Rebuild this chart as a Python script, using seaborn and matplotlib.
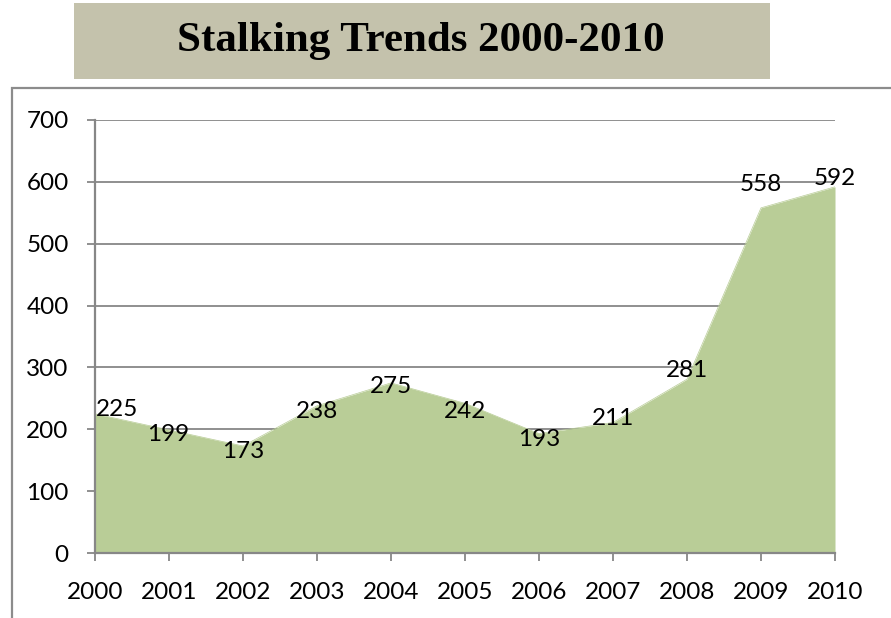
import matplotlib
matplotlib.use("Agg")
import matplotlib.pyplot as plt
import seaborn as sns
import pandas as pd
from matplotlib.patches import Rectangle

# ---- data ----
years = [2000, 2001, 2002, 2003, 2004, 2005, 2006, 2007, 2008, 2009, 2010]
stalking_cases = [225, 199, 173, 238, 275, 242, 193, 211, 281, 558, 592]
y_ticks = [0, 100, 200, 300, 400, 500, 600, 700]
title_text = "Stalking Trends 2000-2010"

# label offsets in pixels (dx, dy) relative to the data point (style only)
label_offsets_px = [(22, 4), (-1, -5), (0, -6), (0, -6), (0, -4), (0, -8),
                    (0, -6), (0, 4), (0, 9), (0, 23), (0, 8)]

df = pd.DataFrame({"year": years, "cases": stalking_cases})

sns.set_theme(style="white")
plt.rcParams["font.family"] = ["Lato", "DejaVu Sans"]

W, H = 891, 618
fig = plt.figure(figsize=(W / 100, H / 100), dpi=100)

def fx(px):
    return px / W

def fy(py):
    return 1 - py / H

# outer chart frame
frame = Rectangle((fx(12), fy(700)), fx(1000), fy(88) - fy(700),
                  transform=fig.transFigure, fill=False,
                  edgecolor="#8c8c8c", linewidth=1.6, zorder=0)
fig.patches.append(frame)

# title box
tbox = Rectangle((fx(74), fy(79)), fx(770) - fx(74), fy(3) - fy(79),
                 transform=fig.transFigure, facecolor="#C4C2AC",
                 edgecolor="none", zorder=0)
fig.patches.append(tbox)
fig.text(fx(421), fy(41), title_text, ha="center", va="center",
         fontsize=31, fontweight="bold", family="Liberation Serif",
         color="black")

left, right, top, bottom = 95, 835, 120, 553
ax = fig.add_axes([fx(left), fy(bottom), fx(right) - fx(left), fy(top) - fy(bottom)])

fill_color = "#B9CD97"
sns.lineplot(data=df, x="year", y="cases", ax=ax, color=fill_color,
             linewidth=0.5, zorder=3)
ax.fill_between(df["year"], 0, df["cases"], color=fill_color, linewidth=0,
                zorder=3)

ax.set_xlim(years[0], years[-1])
ax.set_ylim(y_ticks[0], y_ticks[-1])
ax.set_xticks(years)
ax.set_xticklabels([str(y) for y in years])
ax.set_yticks(y_ticks)
ax.set_yticklabels([str(v) for v in y_ticks])
ax.set_xlabel("")
ax.set_ylabel("")

grid_color = "#878787"
ax.yaxis.grid(True, color=grid_color, linewidth=1.3, zorder=1)
ax.xaxis.grid(False)
ax.set_axisbelow(True)

for s in ["top", "right"]:
    ax.spines[s].set_visible(False)
for s in ["left", "bottom"]:
    ax.spines[s].set_color(grid_color)
    ax.spines[s].set_linewidth(1.6)
    ax.spines[s].set_zorder(4)

fs = 17.5
ax.tick_params(axis="both", which="major", direction="out", length=6,
               width=1.3, color=grid_color, labelsize=fs, labelcolor="black")
ax.tick_params(axis="x", bottom=True, pad=15)
ax.tick_params(axis="y", left=True, pad=13)

for x, v, (dx, dy) in zip(years, stalking_cases, label_offsets_px):
    ax.annotate(str(v), (x, v), xytext=(dx * 0.72, dy * 0.72),
                textcoords="offset points", ha="center", va="center",
                fontsize=fs, color="black", zorder=6, annotation_clip=False)

fig.savefig("out.png", dpi=100)
